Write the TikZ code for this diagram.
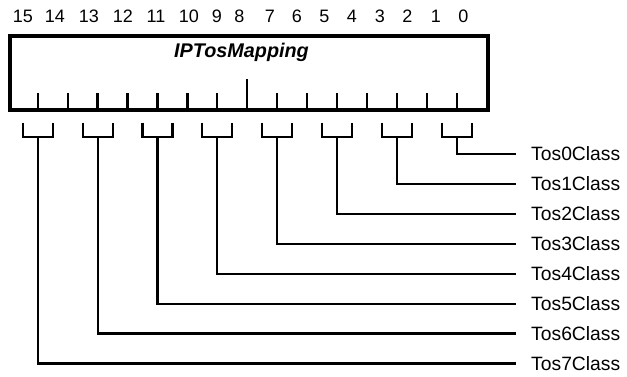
\documentclass[tikz,border=0pt]{standalone}
\usepackage{fontspec}
\setmainfont{Liberation Sans}
\begin{document}
\begin{tikzpicture}[x=1pt,y=-1pt,
  thinline/.style={line width=2.2pt},
  boxstyle/.style={draw, line width=4pt, inner sep=0pt},
  bitlabel/.style={anchor=base, inner sep=0pt, font=\fontsize{18}{20}\selectfont},
  toslabel/.style={anchor=west, inner sep=0pt, font=\fontsize{19.3}{21}\selectfont},
  titlestyle/.style={anchor=base, inner sep=0pt, font=\fontsize{19.8}{22}\selectfont\bfseries\itshape}]
\useasboundingbox (0,0) rectangle (627,377);
\node[boxstyle, minimum width=477.5pt, minimum height=74pt, anchor=north west] (box) at (8,34) {};
\node[titlestyle] (title) at (241.5,57.5) {IPTosMapping};
\foreach \n/\x in {15/23,14/55,13/89,12/123,11/156,10/189,9/217,8/239.5,7/270,6/297,5/324.5,4/352,3/380,2/407.5,1/436,0/463.5}
  \node[bitlabel] (bit\n) at (\x,22.7) {\n};
\foreach \i in {0,...,14} {
  \coordinate (t\i) at ({37.7+29.94*\i},108);
}
\foreach \i in {0,...,6,8,9,...,14}
  \draw[thinline] (t\i) -- ++(0,-15);
\draw[thinline] (t7) -- ++(0,-29);
\foreach \k in {0,...,7} {
  \coordinate (b\k) at ({456.9-59.88*\k},137.3);
  \node[toslabel] (tos\k) at (531,{154+29.93*\k}) {Tos\k Class};
  \draw[thinline] (b\k) ++(-15,-14.6) |- ++(30,14.6) -- ++(0,-14.6);
  \draw[thinline] (b\k) |- ([xshift=-15pt]tos\k.west);
}
\end{tikzpicture}
\end{document}
